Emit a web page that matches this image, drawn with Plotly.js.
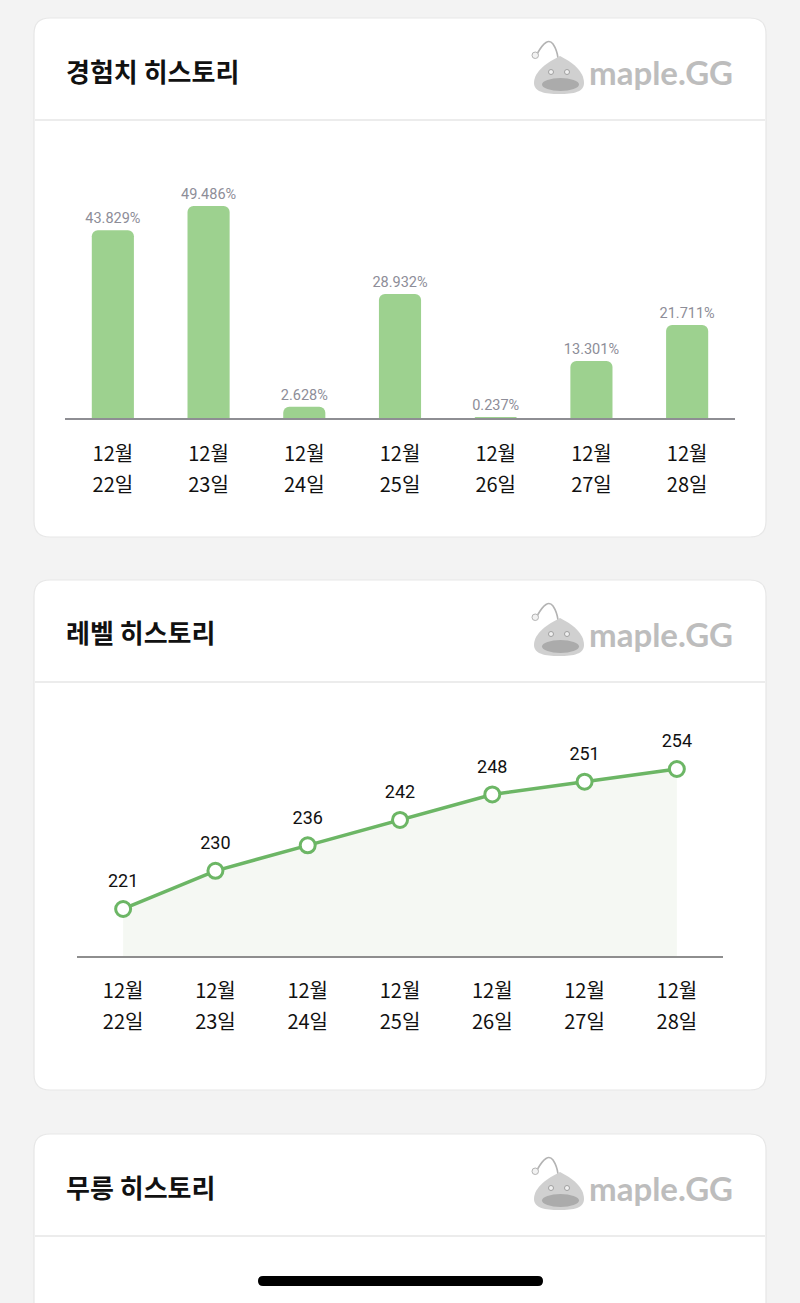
<!DOCTYPE html>
<html>
<head>
<meta charset="utf-8">
<script src="https://cdn.plot.ly/plotly-3.0.1.min.js"></script>
<style>
  html, body { margin: 0; padding: 0; background: #f3f3f3; }
  #chart { width: 800px; height: 1303px; }
</style>
</head>
<body>
<div id="chart"></div>
<script>
// ---- data ----
const dates = ["12월 22일", "12월 23일", "12월 24일", "12월 25일", "12월 26일", "12월 27일", "12월 28일"];
const monthLabels = ["12월", "12월", "12월", "12월", "12월", "12월", "12월"];
const dayLabels = ["22일", "23일", "24일", "25일", "26일", "27일", "28일"];
const expPercent = [43.829, 49.486, 2.628, 28.932, 0.237, 13.301, 21.711];
const levels = [221, 230, 236, 242, 248, 251, 254];
const cardTitles = ["경험치 히스토리", "레벨 히스토리", "무릉 히스토리"];
const brandText = "maple.GG";

// ---- helpers: pixel -> paper ----
const W = 800, H = 1303;
const X = p => p / W;
const Y = p => 1 - p / H;
const P = (x, y) => X(x).toFixed(5) + "," + Y(y).toFixed(5);

function roundRect(x0, y0, x1, y1, r) {
  return "M" + P(x0 + r, y0) + " L" + P(x1 - r, y0) + " Q" + P(x1, y0) + " " + P(x1, y0 + r) +
    " L" + P(x1, y1 - r) + " Q" + P(x1, y1) + " " + P(x1 - r, y1) +
    " L" + P(x0 + r, y1) + " Q" + P(x0, y1) + " " + P(x0, y1 - r) +
    " L" + P(x0, y0 + r) + " Q" + P(x0, y0) + " " + P(x0 + r, y0) + " Z";
}

const shapes = [];
const annotations = [];
const cardTops = [18, 580, 1134];
const cardBottoms = [537, 1090, 1360];

cardTops.forEach((top, i) => {
  shapes.push({type: "path", xref: "paper", yref: "paper", layer: "below",
    path: roundRect(34, top, 766, cardBottoms[i], 16),
    fillcolor: "#ffffff", line: {color: "#e7e7e7", width: 1.2}});
  // header divider
  shapes.push({type: "line", xref: "paper", yref: "paper", layer: "below",
    x0: X(35), x1: X(765), y0: Y(top + 102), y1: Y(top + 102),
    line: {color: "#ececec", width: 2}});
  // title
  annotations.push({xref: "paper", yref: "paper", x: X(64), y: Y(top + 52),
    xanchor: "left", yanchor: "middle", showarrow: false, text: cardTitles[i],
    font: {family: "Noto Sans CJK KR", size: 26, color: "#111111", weight: 700}});
  // logo mascot
  const oy = top - 18;
  const m = (x, y) => P(x, y + oy);
  shapes.push({type: "path", xref: "paper", yref: "paper", layer: "below",
    path: "M" + m(537, 54) + " Q" + m(547, 36) + " " + m(553, 44) + " Q" + m(557, 50) + " " + m(558, 58),
    line: {color: "#b3b3b3", width: 1.6}});
  shapes.push({type: "path", xref: "paper", yref: "paper", layer: "below",
    path: "M" + m(560, 56) + " C" + m(548, 62) + " " + m(534, 71) + " " + m(534, 83) +
      " C" + m(534, 92) + " " + m(545, 94) + " " + m(559, 94) +
      " C" + m(574, 94) + " " + m(584, 92) + " " + m(584, 83) +
      " C" + m(584, 71) + " " + m(572, 62) + " " + m(560, 56) + " Z",
    fillcolor: "#d0d0d0", line: {width: 0}});
  shapes.push({type: "circle", xref: "paper", yref: "paper", layer: "below",
    x0: X(532), x1: X(538.5), y0: Y(oy + 52), y1: Y(oy + 58.5),
    fillcolor: "#f2f2f2", line: {color: "#b3b3b3", width: 1}});
  shapes.push({type: "circle", xref: "paper", yref: "paper", layer: "below",
    x0: X(542), x1: X(579), y0: Y(oy + 78), y1: Y(oy + 91),
    fillcolor: "#ababab", line: {width: 0}});
  [551, 567].forEach(ex => {
    shapes.push({type: "circle", xref: "paper", yref: "paper", layer: "below",
      x0: X(ex - 2.5), x1: X(ex + 2.5), y0: Y(oy + 69.5), y1: Y(oy + 74.5),
      fillcolor: "#f0f0f0", line: {color: "#a0a0a0", width: 1}});
  });
  annotations.push({xref: "paper", yref: "paper", x: X(587), y: Y(oy + 72),
    xanchor: "left", yanchor: "middle", showarrow: false, text: brandText,
    font: {family: "Lato", size: 33, color: "#bdbdbd", weight: 700}});
});

// home indicator
shapes.push({type: "path", xref: "paper", yref: "paper", layer: "above",
  path: roundRect(258, 1276, 543, 1286, 5), fillcolor: "#000000", line: {width: 0}});

const tickFont = {family: "Noto Sans CJK KR", size: 20, color: "#111111"};
const idx = dates.map((d, i) => i);
const empty = dates.map(() => null);

const data = [
  {type: "bar", x: dates, y: expPercent, xaxis: "x", yaxis: "y",
    width: 0.44,
    marker: {color: "#9dd18f", cornerradius: 6, line: {width: 0}},
    text: expPercent.map(v => v.toFixed(3) + "%"),
    textposition: "outside", cliponaxis: false, constraintext: "none",
    textfont: {family: "Roboto", size: 14.5, color: "#8d8d98"},
    hoverinfo: "skip"},
  {type: "scatter", x: dates, y: levels, xaxis: "x2", yaxis: "y2",
    mode: "lines+markers", fill: "tozeroy", fillcolor: "#f5f8f3",
    line: {color: "#6cb665", width: 3.5},
    marker: {size: 15, color: "#ffffff", line: {color: "#6cb665", width: 3}},
    cliponaxis: false, hoverinfo: "skip"},
  {type: "scatter", x: dates, y: levels, xaxis: "x2", yaxis: "y2",
    mode: "markers+text", text: levels.map(String), textposition: "top center",
    marker: {size: 26, opacity: 0},
    textfont: {family: "Roboto", size: 18, color: "#111111"},
    cliponaxis: false, hoverinfo: "skip"},
  // carriers for the second line of date tick labels
  {type: "scatter", x: idx, y: empty, xaxis: "x3", yaxis: "y", mode: "markers",
    marker: {opacity: 0}, hoverinfo: "skip"},
  {type: "scatter", x: idx, y: empty, xaxis: "x4", yaxis: "y2", mode: "markers",
    marker: {opacity: 0}, hoverinfo: "skip"}
];

const baseX = {range: [-0.5, 6.5], showgrid: false, zeroline: false, ticks: "",
  tickfont: tickFont, fixedrange: true, tickmode: "array"};

const layout = {
  width: W, height: H,
  margin: {l: 0, r: 0, t: 0, b: 0},
  paper_bgcolor: "#f3f3f3",
  plot_bgcolor: "rgba(0,0,0,0)",
  showlegend: false,
  xaxis: Object.assign({}, baseX, {domain: [X(65), X(735)], anchor: "y",
    showline: true, linecolor: "#8e8e93", linewidth: 2,
    tickvals: dates, ticktext: monthLabels, ticklabelstandoff: 17}),
  xaxis3: Object.assign({}, baseX, {type: "linear", overlaying: "x", anchor: "y", side: "bottom",
    showline: false, tickvals: idx, ticktext: dayLabels, ticklabelstandoff: 53}),
  yaxis: {domain: [Y(418), Y(150)], anchor: "x", range: [0, (418 - 150) / 4.284],
    visible: false, showgrid: false, zeroline: false, fixedrange: true},
  xaxis2: Object.assign({}, baseX, {domain: [X(77), X(723)], anchor: "y2",
    showline: true, linecolor: "#8e8e8e", linewidth: 2,
    tickvals: dates, ticktext: monthLabels, ticklabelstandoff: 16}),
  xaxis4: Object.assign({}, baseX, {type: "linear", overlaying: "x2", anchor: "y2", side: "bottom",
    showline: false, tickvals: idx, ticktext: dayLabels, ticklabelstandoff: 52}),
  yaxis2: {domain: [Y(956), Y(700)], anchor: "x2", range: [209.92, 209.92 + 256 / 4.2424],
    visible: false, showgrid: false, zeroline: false, fixedrange: true},
  shapes: shapes,
  annotations: annotations
};

Plotly.newPlot("chart", data, layout, {displayModeBar: false, staticPlot: true});
</script>
</body>
</html>
